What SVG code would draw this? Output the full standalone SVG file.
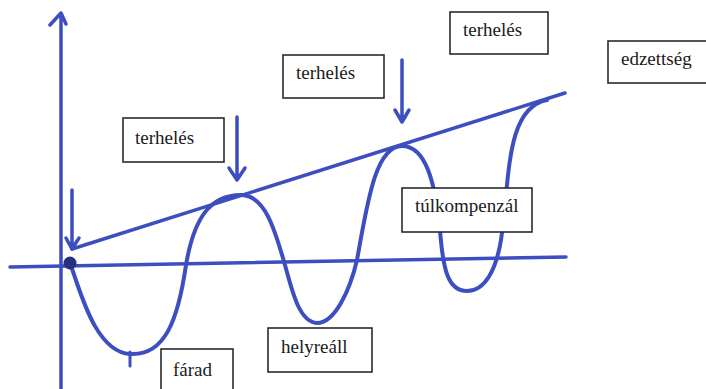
<svg xmlns="http://www.w3.org/2000/svg" width="706" height="389" viewBox="0 0 706 389">
<style>
.ln{stroke:#3d4ec0;fill:none;stroke-linecap:round;stroke-linejoin:round}
.box{fill:#ffffff;stroke:#2b2b2b;stroke-width:1.6}
.lbl{font-family:'Liberation Serif','Times New Roman','DejaVu Serif',serif;font-size:19px;fill:#1a1a1a}
</style>
<rect width="706" height="389" fill="#ffffff"/>
<g id="connectors">
<path id="y-axis" class="ln" stroke-width="3.5" d="M61 389 L61 13 M50 25 L61 13 L66 24"/>
<path id="x-axis" class="ln" stroke-width="3.5" d="M10 267 L566 257"/>
<path id="trend" class="ln" stroke-width="3.5" d="M72 249 L565 93"/>
<path id="curve" class="ln" stroke-width="4" d="M70 263 C80 290,95 352,130 354 C165 356,178 320,186 265 C194 218,210 195,241 195 C265 195,275 230,285 265 C293 295,300 322,317 323 C335 323,350 290,357 260 C367 205,375 146,402 146 C425 146,435 180,440 230 C443 270,448 291,467 291 C485 291,496 270,501 240 C510 180,505 108,547 100"/>
<path id="tick" class="ln" stroke-width="3" d="M130 352 L130 366"/>
<path id="arrow1" class="ln" stroke-width="3.5" d="M72 190 L72 249 M66 238 L72 249 L79 238"/>
<path id="arrow2" class="ln" stroke-width="3.5" d="M237 117 L237 180 M229 168 L237 180 L245 168"/>
<path id="arrow3" class="ln" stroke-width="3.5" d="M402 60 L402 122 M395 110 L402 122 L409 110"/>
<circle cx="70" cy="263" r="6.5" fill="#2a2f80"/>
</g>
<g id="n-terheles1"><rect class="box" x="123" y="118" width="101" height="44"/><text class="lbl" x="135" y="144" font-family="Liberation Serif, serif">terhelés</text></g>
<g id="n-terheles2"><rect class="box" x="283" y="55" width="101" height="43"/><text class="lbl" x="296" y="79" font-family="Liberation Serif, serif">terhelés</text></g>
<g id="n-terheles3"><rect class="box" x="450" y="12" width="98" height="42"/><text class="lbl" x="463" y="36" font-family="Liberation Serif, serif">terhelés</text></g>
<g id="n-edzettseg"><rect class="box" x="608" y="41" width="99" height="42"/><text class="lbl" x="621" y="65" font-family="Liberation Serif, serif">edzettség</text></g>
<g id="n-tulkompenzal"><rect class="box" x="402" y="188" width="130" height="44"/><text class="lbl" x="415" y="212" font-family="Liberation Serif, serif">túlkompenzál</text></g>
<g id="n-helyreall"><rect class="box" x="268" y="328" width="104" height="44"/><text class="lbl" x="281" y="353" font-family="Liberation Serif, serif">helyreáll</text></g>
<g id="n-farad"><rect class="box" x="161" y="349" width="72" height="44"/><text class="lbl" x="173" y="376" font-family="Liberation Serif, serif">fárad</text></g>
</svg>
